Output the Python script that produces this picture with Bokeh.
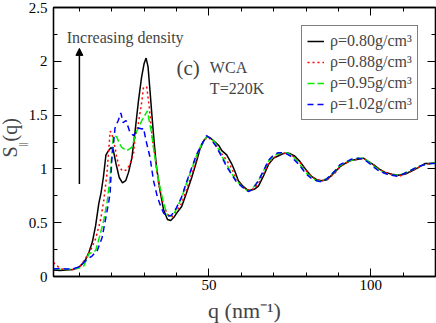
import math
from bokeh.plotting import figure
from bokeh.models import (LinearAxis, FixedTicker, NumeralTickFormatter, Legend, LegendItem,
                          Label, Arrow, NormalHead, Range1d, Title, CustomLabelingPolicy)
from bokeh.embed import file_html
from bokeh.resources import INLINE

# ---------------- data ----------------
q080 = [2, 4, 6, 8, 9.8, 11, 12, 13, 14, 15, 16, 16.7, 17.4, 18.2, 19, 19.8, 20.5, 21.3, 22.3, 23.3,
        24.3, 25.2, 26.2, 27.2, 28.2, 29.2, 30.0, 30.6, 31.2, 31.8, 32.4, 33.0, 33.8, 34.9, 36.0, 37.2,
        38.2, 39.2, 40.3, 41.6, 43.0, 44.7, 46.0, 47.2, 48.4, 49.4, 50.4, 51.9, 53.0, 54.0, 55.5, 57.0,
        58.0, 59.1, 60.5, 61.7, 62.7, 64.0, 65.3, 66.8, 68.4, 70.0, 71.4, 72.8, 74.0, 75.2, 76.5, 78.1,
        79.8, 81.7, 83.3, 84.8, 86.5, 88.9, 90.5, 92.0, 94.0, 96.1, 97.7, 99.2, 100.8, 102.5, 104.3,
        106.5, 108.5, 110.5, 112.6, 114.5, 116.7, 118.5, 120]
s080 = [0.06, 0.055, 0.06, 0.065, 0.086, 0.12, 0.16, 0.23, 0.32, 0.47, 0.68, 0.78, 0.92, 1.13, 1.17, 1.2,
        1.17, 1.05, 0.92, 0.87, 0.89, 0.97, 1.1, 1.35, 1.62, 1.85, 1.98, 2.03, 1.95, 1.73, 1.5, 1.28, 1.02,
        0.8, 0.62, 0.53, 0.52, 0.55, 0.6, 0.65, 0.77, 0.92, 1.05, 1.18, 1.26, 1.30, 1.29, 1.25, 1.22, 1.17,
        1.13, 1.05, 0.98, 0.89, 0.84, 0.81, 0.80, 0.81, 0.84, 0.93, 1.04, 1.10, 1.12, 1.14, 1.15, 1.14,
        1.12, 1.07, 1.0, 0.93, 0.90, 0.89, 0.90, 0.97, 1.02, 1.05, 1.08, 1.09, 1.10, 1.07, 1.04, 1.0, 0.97,
        0.95, 0.94, 0.95, 0.98, 1.01, 1.05, 1.05, 1.06]

q088 = [2, 3, 4.6, 6, 8, 10, 11.9, 13.4, 15, 16.5, 17.5, 18.5, 19.5, 20.0, 21.0, 21.5, 22.3, 23.3, 24.6,
        25.7, 26.7, 27.2, 28.2, 29.3, 29.8, 30.8, 31.6, 32.6, 33.4, 34.4, 35.4, 36.5, 37.5, 38.5, 40,
        41.6, 43, 44.7, 46, 47.2, 48.4, 49.4, 50.4, 51.9, 53, 54, 55.5, 57, 58, 59.1, 60.5, 61.7, 62.7,
        64, 65.3, 66.8, 68.4, 70, 71.4, 72.8, 74, 75.2, 76.5, 78.1, 79.8, 81.7, 83.3, 84.8, 86.5, 88.9,
        90.5, 92, 94, 96.1, 97.7, 99.2, 100.8, 102.5, 104.3, 106.5, 108.5, 110.5, 112.6, 114.5, 116.7,
        118.5, 120]
s088 = [0.13, 0.10, 0.07, 0.065, 0.065, 0.08, 0.17, 0.24, 0.35, 0.52, 0.70, 0.95, 1.35, 1.33, 1.2, 1.11,
        1.02, 0.98, 0.99, 1.05, 1.14, 1.29, 1.42, 1.63, 1.76, 1.76, 1.57, 1.26, 1.11, 0.88, 0.73, 0.62,
        0.57, 0.55, 0.61, 0.68, 0.80, 0.95, 1.07, 1.19, 1.26, 1.29, 1.28, 1.24, 1.19, 1.14, 1.08, 1.01,
        0.94, 0.88, 0.83, 0.81, 0.80, 0.82, 0.86, 0.95, 1.05, 1.10, 1.13, 1.14, 1.15, 1.13, 1.11, 1.06,
        0.99, 0.93, 0.90, 0.89, 0.90, 0.96, 1.02, 1.05, 1.08, 1.09, 1.10, 1.07, 1.04, 1.0, 0.97, 0.95,
        0.93, 0.95, 0.98, 1.01, 1.04, 1.05, 1.06]

q095 = [2, 4, 6, 8, 10, 11.4, 12.9, 15, 16.5, 17.5, 18.6, 19.5, 20.5, 21.5, 22.3, 23.1, 24.6, 26.2, 27.7,
        29.3, 31, 32.3, 33.3, 34.5, 36, 37.2, 38.2, 39.5, 41.6, 43, 44.7, 46, 47.8, 49.3, 50.5, 52, 54,
        55.5, 57, 58.5, 60.4, 62.2, 63.5, 65.3, 67, 68.4, 70, 71.4, 72.8, 74, 75.2, 76.5, 78.1, 79.8,
        81.7, 83.3, 84.8, 86.5, 88.9, 90.5, 92, 94, 96.1, 97.7, 99.2, 100.8, 102.5, 104.3, 106.5, 108.5,
        110.5, 112.6, 114.5, 116.7, 118.5, 120]
s095 = [0.07, 0.07, 0.065, 0.07, 0.08, 0.10, 0.21, 0.24, 0.40, 0.52, 0.70, 0.93, 1.31, 1.30, 1.24, 1.20,
        1.17, 1.20, 1.35, 1.45, 1.54, 1.33, 1.11, 0.88, 0.68, 0.57, 0.56, 0.60, 0.73, 0.86, 1.0, 1.11,
        1.23, 1.30, 1.29, 1.24, 1.12, 1.04, 0.96, 0.89, 0.83, 0.79, 0.82, 0.89, 0.99, 1.07, 1.12, 1.14,
        1.15, 1.15, 1.13, 1.10, 1.04, 0.97, 0.92, 0.89, 0.89, 0.91, 0.98, 1.03, 1.06, 1.08, 1.10, 1.10,
        1.07, 1.03, 0.99, 0.96, 0.94, 0.94, 0.96, 0.99, 1.02, 1.04, 1.05, 1.06]

q102 = [2, 4, 6, 8, 10, 12.4, 13.9, 15.5, 17, 18, 19.1, 19.5, 20, 21, 22, 22.8, 23.5, 24.4, 25.6, 26.7,
        27.2, 28.2, 29.3, 29.8, 30.6, 31.8, 32.9, 34, 34.9, 36, 37, 38.5, 40, 41.6, 43, 44.7, 46, 47.8,
        49.3, 50.5, 52, 54, 55.5, 57, 58.5, 60.4, 62.2, 63.5, 65.3, 67, 68.4, 70, 71.4, 72.8, 74, 75.2,
        76.5, 78.1, 79.8, 81.7, 83.3, 84.8, 86.5, 88.9, 90.5, 92, 94, 96.1, 97.7, 99.2, 100.8, 102.5,
        104.3, 106.5, 108.5, 110.5, 112.6, 114.5, 116.7, 118.5, 120]
s102 = [0.07, 0.075, 0.07, 0.07, 0.09, 0.16, 0.19, 0.24, 0.36, 0.52, 0.70, 0.78, 1.08, 1.38, 1.45, 1.52,
        1.43, 1.45, 1.34, 1.31, 1.33, 1.38, 1.37, 1.38, 1.26, 1.11, 0.89, 0.75, 0.67, 0.59, 0.56, 0.57,
        0.64, 0.74, 0.87, 1.01, 1.12, 1.23, 1.31, 1.28, 1.22, 1.11, 1.02, 0.95, 0.88, 0.83, 0.79, 0.81,
        0.89, 0.99, 1.08, 1.13, 1.15, 1.15, 1.14, 1.12, 1.08, 1.03, 0.96, 0.91, 0.89, 0.88, 0.91, 0.98,
        1.04, 1.06, 1.09, 1.10, 1.09, 1.06, 1.02, 0.98, 0.96, 0.94, 0.93, 0.96, 0.99, 1.02, 1.04, 1.05,
        1.05]

legend_labels = ["\u03c1=0.80g/cm\u00b3", "\u03c1=0.88g/cm\u00b3", "\u03c1=0.95g/cm\u00b3", "\u03c1=1.02g/cm\u00b3"]
xticks = [50, 100]
xminor = [10, 20, 30, 40, 60, 70, 80, 90, 110, 120]
yticks = [0, 0.5, 1, 1.5, 2, 2.5]
yminor = [0.25, 0.75, 1.25, 1.75, 2.25]

FONT = "'Liberation Serif'"

p = figure(width=436, height=323, output_backend="svg", toolbar_location=None,
           x_range=Range1d(2, 120), y_range=Range1d(0, 2.5),
           frame_width=382, frame_height=269,
           min_border_left=52, min_border_right=2, min_border_top=7, min_border_bottom=47,
           x_axis_type=None, y_axis_type=None)
p.grid.visible = False
p.outline_line_color = "black"
p.outline_line_width = 1.3
p.background_fill_color = "white"
p.border_fill_color = "white"

no_labels = CustomLabelingPolicy(code="for (const i of indices) { indices.unset(i) }\nreturn indices")

def style_axis(ax, show_labels):
    ax.axis_line_color = "black"
    ax.axis_line_width = 1.3
    ax.major_tick_in = 8
    ax.major_tick_out = 0
    ax.minor_tick_in = 4
    ax.minor_tick_out = 0
    ax.major_tick_line_color = "black"
    ax.minor_tick_line_color = "black"
    ax.major_tick_line_width = 1
    ax.minor_tick_line_width = 1
    ax.major_label_text_font = FONT
    ax.major_label_text_color = "black"
    if show_labels:
        ax.major_label_text_font_size = "15px"
    else:
        ax.major_label_text_font_size = "0px"
        ax.major_label_policy = no_labels
        ax.major_label_standoff = 0

xt = FixedTicker(ticks=xticks, minor_ticks=xminor)
yt = FixedTicker(ticks=yticks, minor_ticks=yminor)

xb = LinearAxis(ticker=xt); style_axis(xb, True); xb.major_label_standoff = 3
xb.axis_label = "q (nm\u207b\u00b9)"
xb.axis_label_text_font = FONT
xb.axis_label_text_font_size = "22px"
xb.axis_label_text_font_style = "normal"
xb.axis_label_standoff = 5
xa = LinearAxis(ticker=xt); style_axis(xa, False)
yl = LinearAxis(ticker=yt, formatter=NumeralTickFormatter(format="0.[0]")); style_axis(yl, True)
yl.major_label_standoff = 6
yr = LinearAxis(ticker=yt); style_axis(yr, False)
p.add_layout(xb, "below")
p.add_layout(xa, "above")
p.add_layout(yl, "left")
p.add_layout(yr, "right")

# y title: S with subscript || followed by (q)
p.add_layout(Title(text="||", text_font=FONT, text_font_size="10px", text_font_style="normal",
                   align="left", offset=130, standoff=-4), "left")
p.add_layout(Title(text="S  (q)", text_font=FONT, text_font_size="20px", text_font_style="normal",
                   align="left", offset=119, standoff=-8), "left")

r1 = p.line(q080, s080, line_color="black", line_width=1.5)
r2 = p.line(q088, s088, line_color="#ff0000", line_width=1.5, line_dash="2 3")
r3 = p.line(q095, s095, line_color="#00ee00", line_width=1.5, line_dash="7 3")
r4 = p.line(q102, s102, line_color="#0000ff", line_width=1.5, line_dash="6 4")

legend = Legend(items=[LegendItem(label=legend_labels[i], renderers=[r]) for i, r in enumerate([r1, r2, r3, r4])],
                location=(248, 156), margin=0, padding=5, spacing=1,
                glyph_width=17, glyph_height=20, label_height=20, label_standoff=6,
                label_text_font=FONT, label_text_font_size="16px",
                border_line_color="black", border_line_width=1,
                background_fill_color="white", background_fill_alpha=1)
p.add_layout(legend)

# annotations inside plot (data coordinates)
p.add_layout(Label(x=6.1, y=2.22, text="Increasing density", text_font=FONT, text_font_size="16px",
                   text_baseline="alphabetic", text_align="left"))
p.add_layout(Arrow(end=NormalHead(size=7, fill_color="black", line_color="black"),
                   x_start=10, y_start=0.86, x_end=10, y_end=2.12, line_width=1.5, line_color="black"))
p.add_layout(Label(x=40.0, y=1.94, text="(c)", text_font=FONT, text_font_size="21px",
                   text_baseline="alphabetic", text_align="left"))
p.add_layout(Label(x=50.3, y=1.94, text="WCA", text_font=FONT, text_font_size="16px",
                   text_baseline="alphabetic", text_align="left"))
p.add_layout(Label(x=50.3, y=1.75, text="T=220K", text_font=FONT, text_font_size="16px",
                   text_baseline="alphabetic", text_align="left"))

open("out.html", "w").write(file_html(p, INLINE))
